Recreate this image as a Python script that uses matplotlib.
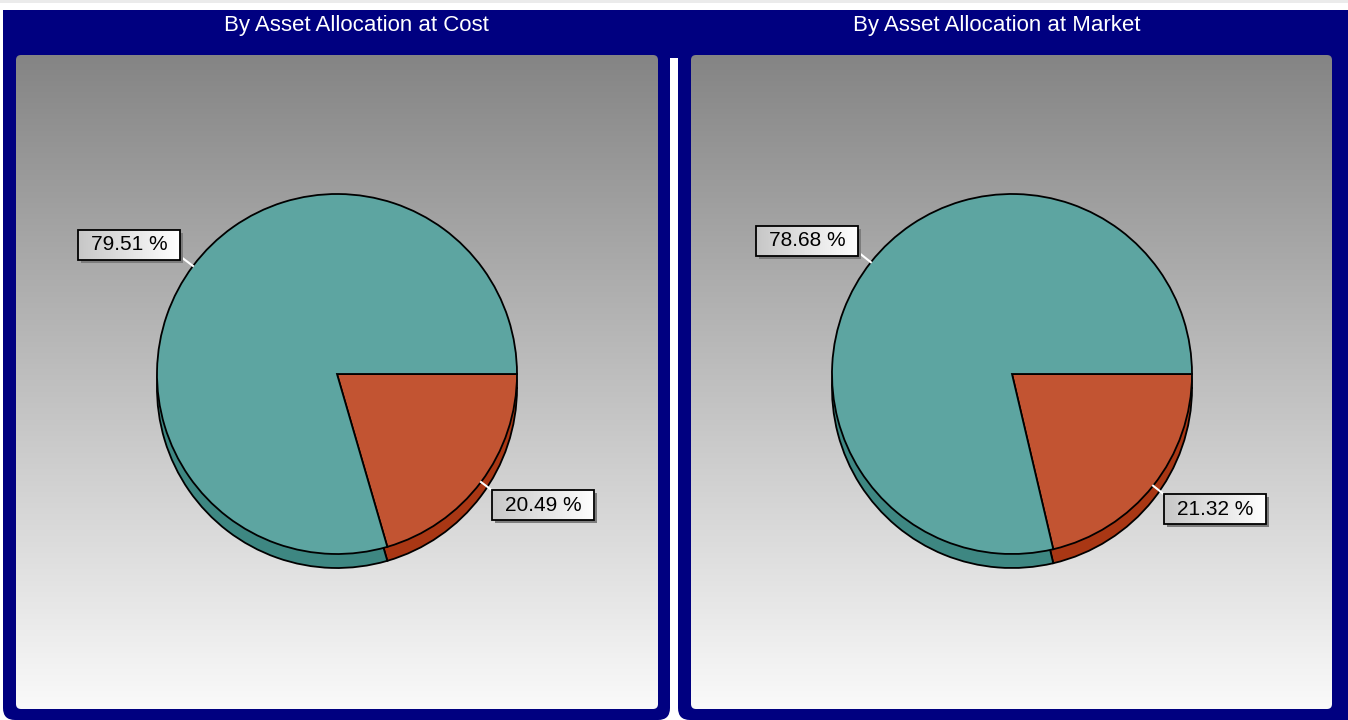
import numpy as np
import matplotlib
matplotlib.use('Agg')
import matplotlib.pyplot as plt
from matplotlib.patches import Rectangle, FancyBboxPatch

plt.rcParams['font.family'] = ['Liberation Sans', 'DejaVu Sans']

titles = ['By Asset Allocation at Cost', 'By Asset Allocation at Market']
cost_pct = [79.51, 20.49]
market_pct = [78.68, 21.32]
series = [cost_pct, market_pct]

W, H = 1348, 720
navy = '#000080'
teal, teal_dk = '#5da5a1', '#3e8782'
red, red_dk = '#c25432', '#a93714'

def Y(y):
    # pixel row (from top) -> data y
    return H - y

fig = plt.figure(figsize=(W/100, H/100), dpi=100)
ax = fig.add_axes([0, 0, 1, 1])

# frame
ax.add_patch(Rectangle((0, Y(3)), W, 3, color='#ebebeb', lw=0, zorder=0))
ax.add_patch(Rectangle((3, Y(58)), W-3, 48, color=navy, lw=0, zorder=1))
outer = [(3, 670), (678, W+20)]
inner = [(16, 658), (691, 1332)]
title_x = [356, 997]
centers = [337, 1012]
r = 180
cy = 374

grad = np.linspace(0.52, 0.98, 256)[:, None]
grad = np.dstack([grad, grad, grad])

for i in range(2):
    x0, x1 = outer[i]
    ax.add_patch(FancyBboxPatch((x0, Y(720)), x1-x0, 710, boxstyle='round,pad=0,rounding_size=12',
                                color=navy, lw=0, zorder=1))
    ax.add_patch(Rectangle((x0, Y(60)), x1-x0, 50, color=navy, lw=0, zorder=1))
    ix0, ix1 = inner[i]
    clip = FancyBboxPatch((ix0, Y(709)), ix1-ix0, 654, boxstyle='round,pad=0,rounding_size=5',
                          fc='none', lw=0, zorder=2)
    ax.add_patch(clip)
    im = ax.imshow(grad, extent=(ix0, ix1, Y(709), Y(55)), origin='upper', aspect='auto', zorder=2)
    im.set_clip_path(clip)
    ax.text(title_x[i], Y(25), titles[i], color='white', fontsize=16, ha='center', va='center', zorder=5)

    vals = series[i]
    cx = centers[i]
    # depth layer
    ax.pie([vals[1], vals[0]], colors=[red_dk, teal_dk], startangle=0, counterclock=False,
           radius=r, center=(cx, Y(cy) - 14), frame=True,
           wedgeprops=dict(edgecolor='black', linewidth=1.3, zorder=3))
    wedges, _ = ax.pie([vals[1], vals[0]], colors=[red, teal], startangle=0, counterclock=False,
                       radius=r, center=(cx, Y(cy)), frame=True,
                       wedgeprops=dict(edgecolor='black', linewidth=1.3, zorder=4))

    for w, v in zip(wedges, [vals[1], vals[0]]):
        a = np.deg2rad((w.theta1 + w.theta2) / 2)
        ex, ey = cx + r*np.cos(a), Y(cy) + r*np.sin(a)
        lx, ly = ex + 14*np.cos(a), ey + 14*np.sin(a)
        ax.plot([ex, lx], [ey, ly], color='white', lw=1.5, zorder=5)
        bw, bh = 102, 30
        if np.cos(a) < 0:
            bx, by = lx - 2 - bw, ly - 2
        else:
            bx, by = lx, ly - bh
        ax.add_patch(Rectangle((bx + 3, by - 3), bw, bh, color='#7c7c7c', lw=0, zorder=6))
        g = np.linspace(0.78, 1.0, 64)[None, :]
        g = np.dstack([g, g, g])
        ax.imshow(g, extent=(bx, bx+bw, by, by+bh), aspect='auto', zorder=7)
        ax.add_patch(Rectangle((bx, by), bw, bh, fc='none', ec='black', lw=1.3, zorder=8))
        ax.text(bx + bw/2, by + bh/2, f'{v:.2f} %', fontsize=15, ha='center', va='center', zorder=9)

ax.set_xlim(0, W)
ax.set_ylim(0, H)
ax.set_aspect('auto')
ax.axis('off')
plt.savefig('out.png', dpi=100, facecolor='white')
